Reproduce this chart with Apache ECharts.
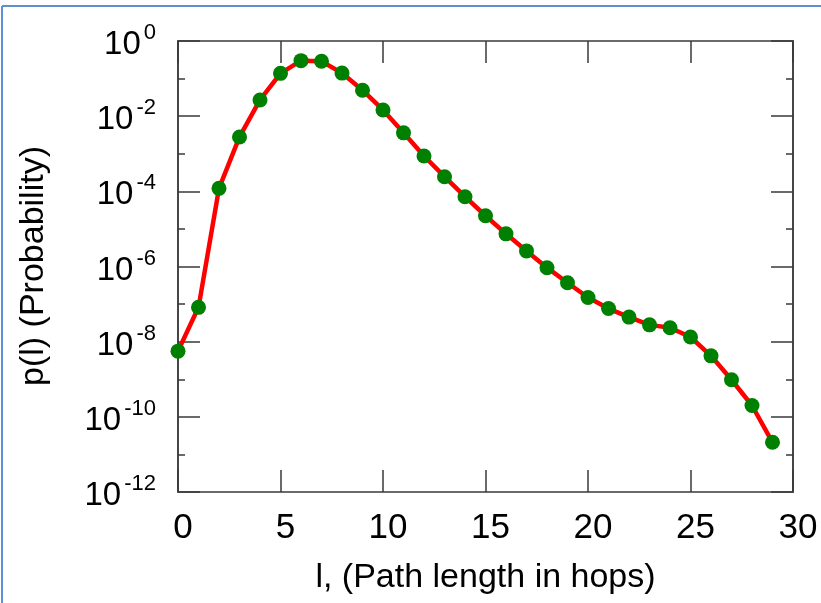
<!DOCTYPE html>
<html>
<head>
<meta charset="utf-8">
<script src="https://cdn.jsdelivr.net/npm/echarts@6/dist/echarts.min.js"></script>
<style>
html,body{margin:0;padding:0;background:#fff;}
#chart{width:821px;height:603px;}
</style>
</head>
<body>
<div id="chart"></div>
<script>
// Data
var hops = [0,1,2,3,4,5,6,7,8,9,10,11,12,13,14,15,16,17,18,19,20,21,22,23,24,25,26,27,28,29];
var probability = [5.6e-9, 8.2e-8, 1.2e-4, 2.8e-3, 2.7e-2, 0.138, 0.30, 0.29, 0.14, 0.049,
  0.0146, 3.6e-3, 8.7e-4, 2.45e-4, 7.2e-5, 2.24e-5, 7.4e-6, 2.6e-6, 9.3e-7, 3.7e-7,
  1.5e-7, 7.6e-8, 4.5e-8, 2.8e-8, 2.35e-8, 1.33e-8, 4.2e-9, 9.7e-10, 2.0e-10, 2.1e-11];
var yMajorTicks = [1e-12, 1e-10, 1e-8, 1e-6, 1e-4, 1e-2, 1];
var yMinorTicks = [1e-11, 1e-9, 1e-7, 1e-5, 1e-3, 1e-1];
var xTicks = [0, 5, 10, 15, 20, 25, 30];
var xName = 'l, (Path length in hops)';
var yName = 'p(l) (Probability)';

var FONT = '"Liberation Sans", Arial, Helvetica, sans-serif';
var AX = '#3a3a3a';

var chart = echarts.init(document.getElementById('chart'), null, {renderer: 'canvas'});

function expLabel(v) {
  var e = Math.round(Math.log10(v));
  return '{b|10}{s|' + e + '}';
}
var rich = {
  b: {fontSize: 33, fontFamily: FONT, color: '#000', lineHeight: 46, verticalAlign: 'middle'},
  s: {fontSize: 22, fontFamily: FONT, color: '#000', lineHeight: 22, verticalAlign: 'top', padding: [0, 0, 0, 3]}
};

var points = hops.map(function (h, i) { return [h, probability[i]]; });

function yAxisDef(pos, ticks, len, labels) {
  return {
    type: 'log', logBase: 10, position: pos, min: 1e-12, max: 1,
    axisLine: {show: true, lineStyle: {color: AX, width: 1.5}},
    axisTick: {show: true, inside: true, length: len, customValues: ticks, lineStyle: {color: AX, width: 1.5}},
    axisLabel: labels ? {show: true, customValues: ticks, formatter: expLabel, rich: rich, margin: 22,
      align: 'right', verticalAlign: 'middle', padding: [8, 0, 0, 0]} : {show: false},
    splitLine: {show: false},
    minorTick: {show: false}
  };
}

var option = {
  animation: false,
  backgroundColor: '#ffffff',
  grid: {left: 178, right: 28, top: 41, bottom: 111, containLabel: false},
  xAxis: [{
    type: 'value', position: 'bottom', min: 0, max: 30, interval: 5,
    name: xName, nameLocation: 'middle', nameGap: 69,
    nameTextStyle: {fontSize: 34, fontFamily: FONT, color: '#000'},
    axisLine: {show: true, lineStyle: {color: AX, width: 1.5}},
    axisTick: {show: true, inside: true, length: 22, lineStyle: {color: AX, width: 1.5}},
    axisLabel: {show: true, fontSize: 35, fontFamily: FONT, color: '#000', margin: 19, padding: [0, 0, 0, 10],
      formatter: function (v) { return xTicks.indexOf(v) >= 0 ? String(v) : ''; }},
    splitLine: {show: false}
  }, {
    type: 'value', position: 'top', min: 0, max: 30, interval: 5,
    axisLine: {show: true, lineStyle: {color: AX, width: 1.5}},
    axisTick: {show: true, inside: true, length: 22, lineStyle: {color: AX, width: 1.5}},
    axisLabel: {show: false},
    splitLine: {show: false}
  }],
  yAxis: [
    yAxisDef('left', yMajorTicks, 22, true),
    yAxisDef('left', yMinorTicks, 7, false),
    yAxisDef('right', yMajorTicks, 22, false),
    yAxisDef('right', yMinorTicks, 7, false)
  ],
  graphic: [
    {type: 'line', shape: {x1: 2, y1: 6, x2: 2, y2: 603}, style: {stroke: '#5d8fd2', lineWidth: 2}, z: 100},
    {type: 'line', shape: {x1: 2, y1: 6, x2: 821, y2: 6}, style: {stroke: '#5d8fd2', lineWidth: 2}, z: 100},
    {type: 'text', x: 34, y: 266, rotation: Math.PI / 2,
      style: {text: yName, fontSize: 34, fontFamily: FONT, fill: '#000', align: 'center', verticalAlign: 'middle'}, z: 100}
  ],
  series: [{
    type: 'line',
    xAxisIndex: 0, yAxisIndex: 0,
    data: points,
    symbol: 'circle', symbolSize: 15,
    lineStyle: {color: '#ff0000', width: 4.5},
    itemStyle: {color: '#008000'},
    z: 5
  }]
};
chart.setOption(option);
</script>
</body>
</html>
